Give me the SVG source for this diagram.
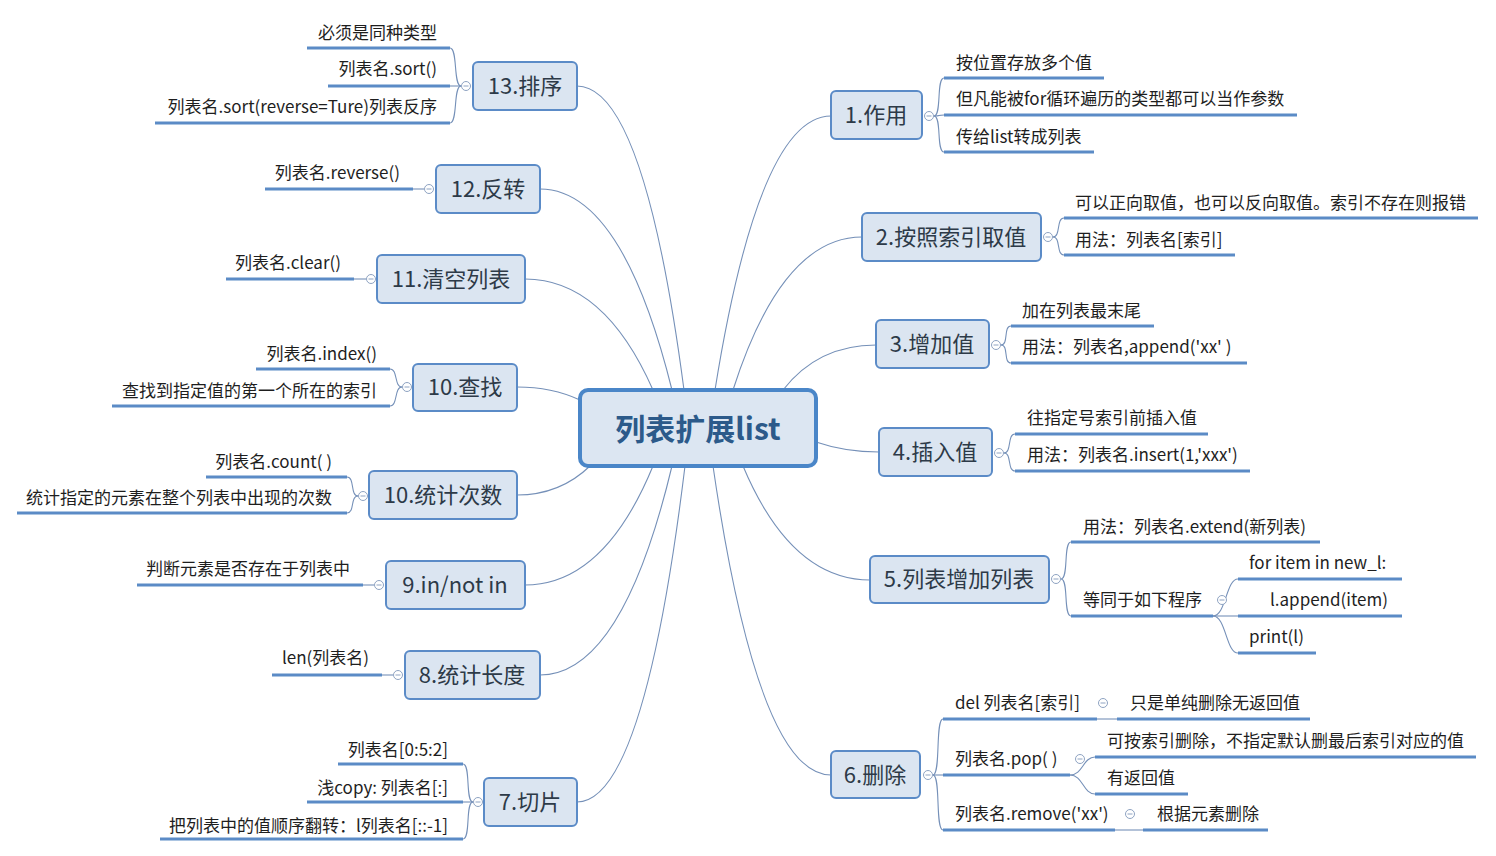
<svg xmlns="http://www.w3.org/2000/svg" width="1496" height="856" viewBox="0 0 1496 856">
<defs>
<style>
text{font-family:"Noto Sans CJK SC","Microsoft YaHei",sans-serif;dominant-baseline:central;transform:translateY(-2px)}
.box{fill:#dbe5f1;stroke:#5b8bc7;stroke-width:2}
.nt{font-size:22px;fill:#2d3a48;text-anchor:middle}
.lt{font-size:17px;fill:#1e1e1e}
.rt{font-size:17px;fill:#1e1e1e;text-anchor:end}
.ul{stroke:#5b8bc6;stroke-width:3;fill:none}
.cn{stroke:#7590b8;stroke-width:1.1;fill:none}
.cc{fill:#fff;stroke:#8ea3c2;stroke-width:1}
.mn{stroke:#8ea3c2;stroke-width:1}
</style>
<g id="fold"><circle class="cc" r="4.5"/><line class="mn" x1="-2.5" y1="0" x2="2.5" y2="0"/></g>
</defs>
<rect width="1496" height="856" fill="#fff"/>

<g id="connectors">
<path class="cn" d="M577 86 Q644 86 684 390"/>
<path class="cn" d="M540 189 Q622 189 672 390"/>
<path class="cn" d="M525 279 Q604 279 653 390"/>
<path class="cn" d="M517 387 Q552 387 580 400"/>
<path class="cn" d="M517 495 Q560 495 590 466"/>
<path class="cn" d="M525 585 Q604 585 653 466"/>
<path class="cn" d="M540 675 Q622 675 672 466"/>
<path class="cn" d="M577 802 Q644 802 685 466"/>
<path class="cn" d="M831 116 Q759 116 715 390"/>
<path class="cn" d="M862 237 Q782 237 733 390"/>
<path class="cn" d="M876 345 Q818 345 783 390"/>
<path class="cn" d="M879 452 Q845 452 816 442"/>
<path class="cn" d="M870 580 Q791 580 743 466"/>
<path class="cn" d="M831 775 Q758 775 713 466"/>
<path class="cn" d="M934 116 C942 116 936 78 944 78"/>
<path class="cn" d="M934 116 C942 116 936 115 944 115"/>
<path class="cn" d="M934 116 C942 116 936 152 944 152"/>
<path class="cn" d="M1053 237 C1061 237 1056 218 1064 218"/>
<path class="cn" d="M1053 237 C1061 237 1056 255 1064 255"/>
<path class="cn" d="M1001 345 C1009 345 1003 326 1011 326"/>
<path class="cn" d="M1001 345 C1009 345 1003 363 1011 363"/>
<path class="cn" d="M1004 453 C1012 453 1007 434 1015 434"/>
<path class="cn" d="M1004 453 C1012 453 1007 471 1015 471"/>
<path class="cn" d="M1061 579 C1069 579 1063 542 1071 542"/>
<path class="cn" d="M1061 579 C1069 579 1063 616 1071 616"/>
<path class="cn" d="M1213 616 C1226 616 1226 579 1238 579"/>
<path class="cn" d="M1213 616 L1238 616"/>
<path class="cn" d="M1213 616 C1226 616 1226 653 1238 653"/>
<path class="cn" d="M933 775 C941 775 935 719 943 719"/>
<path class="cn" d="M933 775 L943 775"/>
<path class="cn" d="M933 775 C941 775 935 830 943 830"/>
<path class="cn" d="M1097 719 L1117 719"/>
<path class="cn" d="M1070 775 C1083 775 1083 757 1095 757"/>
<path class="cn" d="M1070 775 C1083 775 1083 794 1095 794"/>
<path class="cn" d="M1115 830 L1143 830"/>
<path class="cn" d="M461 86 C453 86 458 48 450 48"/>
<path class="cn" d="M461 86 L450 86"/>
<path class="cn" d="M461 86 C453 86 458 123 450 123"/>
<path class="cn" d="M424 189 L413 189"/>
<path class="cn" d="M366 279 L354 279"/>
<path class="cn" d="M402 387 C394 387 398 369 390 369"/>
<path class="cn" d="M402 387 C394 387 398 406 390 406"/>
<path class="cn" d="M358 496 C350 496 355 477 347 477"/>
<path class="cn" d="M358 496 C350 496 355 513 347 513"/>
<path class="cn" d="M374 585 L363 585"/>
<path class="cn" d="M393 675 L382 675"/>
<path class="cn" d="M473 802 C465 802 471 764 463 764"/>
<path class="cn" d="M473 802 L463 802"/>
<path class="cn" d="M473 802 C465 802 471 839 463 839"/>
</g>

<g id="central">
<rect x="580" y="390" width="236" height="76" rx="8" fill="#dce6f2" stroke="#4a86c8" stroke-width="4"/>
<text x="698" y="429" font-size="30" font-weight="bold" fill="#2c5a8a" text-anchor="middle">列表扩展list</text>
</g>

<g id="n1">
<rect class="box" x="831" y="91" width="91" height="48" rx="5"/>
<text class="nt" x="876" y="115">1.作用</text>
<use href="#fold" x="929" y="116"/>
<text class="lt" x="956" y="63">按位置存放多个值</text><line class="ul" x1="944" y1="78" x2="1104" y2="78"/>
<text class="lt" x="956" y="99">但凡能被for循环遍历的类型都可以当作参数</text><line class="ul" x1="944" y1="115" x2="1297" y2="115"/>
<text class="lt" x="956" y="137">传给list转成列表</text><line class="ul" x1="944" y1="152" x2="1094" y2="152"/>
</g>

<g id="n2">
<rect class="box" x="862" y="213" width="179" height="48" rx="5"/>
<text class="nt" x="951" y="237">2.按照索引取值</text>
<use href="#fold" x="1048" y="237"/>
<text class="lt" x="1075" y="203">可以正向取值，也可以反向取值。索引不存在则报错</text><line class="ul" x1="1064" y1="218" x2="1478" y2="218"/>
<text class="lt" x="1075" y="240">用法：列表名[索引]</text><line class="ul" x1="1064" y1="255" x2="1235" y2="255"/>
</g>

<g id="n3">
<rect class="box" x="876" y="320" width="113" height="48" rx="5"/>
<text class="nt" x="932" y="344">3.增加值</text>
<use href="#fold" x="996" y="345"/>
<text class="lt" x="1022" y="311">加在列表最末尾</text><line class="ul" x1="1011" y1="326" x2="1154" y2="326"/>
<text class="lt" x="1022" y="347">用法：列表名,append('xx' )</text><line class="ul" x1="1011" y1="363" x2="1247" y2="363"/>
</g>

<g id="n4">
<rect class="box" x="879" y="428" width="113" height="48" rx="5"/>
<text class="nt" x="935" y="452">4.插入值</text>
<use href="#fold" x="999" y="453"/>
<text class="lt" x="1027" y="418">往指定号索引前插入值</text><line class="ul" x1="1015" y1="434" x2="1208" y2="434"/>
<text class="lt" x="1027" y="455">用法：列表名.insert(1,'xxx')</text><line class="ul" x1="1015" y1="471" x2="1250" y2="471"/>
</g>

<g id="n5">
<rect class="box" x="870" y="556" width="179" height="47" rx="5"/>
<text class="nt" x="959" y="579">5.列表增加列表</text>
<use href="#fold" x="1056" y="579"/>
<text class="lt" x="1083" y="527">用法：列表名.extend(新列表)</text><line class="ul" x1="1071" y1="542" x2="1320" y2="542"/>
<text class="lt" x="1083" y="600">等同于如下程序</text><line class="ul" x1="1071" y1="616" x2="1213" y2="616"/>
<use href="#fold" x="1222" y="600"/>
<text class="lt" x="1249" y="563">for item in new_l:</text><line class="ul" x1="1238" y1="579" x2="1402" y2="579"/>
<text class="lt" x="1270" y="600">l.append(item)</text><line class="ul" x1="1238" y1="616" x2="1402" y2="616"/>
<text class="lt" x="1249" y="637">print(l)</text><line class="ul" x1="1238" y1="653" x2="1316" y2="653"/>
</g>

<g id="n6">
<rect class="box" x="831" y="751" width="89" height="47" rx="5"/>
<text class="nt" x="875" y="775">6.删除</text>
<use href="#fold" x="928" y="775"/>
<text class="lt" x="955" y="703">del 列表名[索引]</text><line class="ul" x1="943" y1="719" x2="1097" y2="719"/>
<use href="#fold" x="1103" y="703"/>
<text class="lt" x="1130" y="703">只是单纯删除无返回值</text><line class="ul" x1="1117" y1="719" x2="1310" y2="719"/>
<text class="lt" x="955" y="759">列表名.pop( )</text><line class="ul" x1="943" y1="775" x2="1070" y2="775"/>
<use href="#fold" x="1080" y="759"/>
<text class="lt" x="1107" y="741">可按索引删除，不指定默认删最后索引对应的值</text><line class="ul" x1="1095" y1="757" x2="1476" y2="757"/>
<text class="lt" x="1107" y="778">有返回值</text><line class="ul" x1="1095" y1="794" x2="1188" y2="794"/>
<text class="lt" x="955" y="814">列表名.remove('xx')</text><line class="ul" x1="943" y1="830" x2="1115" y2="830"/>
<use href="#fold" x="1130" y="814"/>
<text class="lt" x="1157" y="814">根据元素删除</text><line class="ul" x1="1143" y1="830" x2="1268" y2="830"/>
</g>

<g id="n13">
<rect class="box" x="473" y="62" width="104" height="48" rx="5"/>
<text class="nt" x="525" y="86">13.排序</text>
<use href="#fold" x="466" y="86"/>
<text class="rt" x="437" y="33">必须是同种类型</text><line class="ul" x1="307" y1="48" x2="450" y2="48"/>
<text class="rt" x="437" y="69">列表名.sort()</text><line class="ul" x1="328" y1="86" x2="450" y2="86"/>
<text class="rt" x="437" y="107">列表名.sort(reverse=Ture)列表反序</text><line class="ul" x1="155" y1="123" x2="450" y2="123"/>
</g>

<g id="n12">
<rect class="box" x="436" y="165" width="104" height="48" rx="5"/>
<text class="nt" x="488" y="189">12.反转</text>
<use href="#fold" x="429" y="189"/>
<text class="rt" x="400" y="173">列表名.reverse()</text><line class="ul" x1="265" y1="189" x2="413" y2="189"/>
</g>

<g id="n11">
<rect class="box" x="377" y="255" width="148" height="48" rx="5"/>
<text class="nt" x="451" y="279">11.清空列表</text>
<use href="#fold" x="371" y="279"/>
<text class="rt" x="341" y="263">列表名.clear()</text><line class="ul" x1="226" y1="279" x2="354" y2="279"/>
</g>

<g id="n10a">
<rect class="box" x="413" y="364" width="104" height="47" rx="5"/>
<text class="nt" x="465" y="387">10.查找</text>
<use href="#fold" x="407" y="387"/>
<text class="rt" x="377" y="354">列表名.index()</text><line class="ul" x1="256" y1="369" x2="390" y2="369"/>
<text class="rt" x="377" y="391">查找到指定值的第一个所在的索引</text><line class="ul" x1="112" y1="406" x2="390" y2="406"/>
</g>

<g id="n10b">
<rect class="box" x="369" y="471" width="148" height="48" rx="5"/>
<text class="nt" x="443" y="495">10.统计次数</text>
<use href="#fold" x="363" y="496"/>
<text class="rt" x="332" y="462">列表名.count( )</text><line class="ul" x1="206" y1="477" x2="347" y2="477"/>
<text class="rt" x="332" y="498">统计指定的元素在整个列表中出现的次数</text><line class="ul" x1="17" y1="513" x2="347" y2="513"/>
</g>

<g id="n9">
<rect class="box" x="386" y="561" width="139" height="48" rx="5"/>
<text class="nt" x="455" y="585">9.in/not in</text>
<use href="#fold" x="379" y="585"/>
<text class="rt" x="350" y="569">判断元素是否存在于列表中</text><line class="ul" x1="137" y1="585" x2="363" y2="585"/>
</g>

<g id="n8">
<rect class="box" x="405" y="651" width="135" height="48" rx="5"/>
<text class="nt" x="472" y="675">8.统计长度</text>
<use href="#fold" x="398" y="675"/>
<text class="rt" x="369" y="658">len(列表名)</text><line class="ul" x1="272" y1="675" x2="382" y2="675"/>
</g>

<g id="n7">
<rect class="box" x="484" y="778" width="93" height="48" rx="5"/>
<text class="nt" x="530" y="802">7.切片</text>
<use href="#fold" x="478" y="802"/>
<text class="rt" x="448" y="750">列表名[0:5:2]</text><line class="ul" x1="338" y1="764" x2="463" y2="764"/>
<text class="rt" x="448" y="788">浅copy: 列表名[:]</text><line class="ul" x1="307" y1="802" x2="463" y2="802"/>
<text class="rt" x="448" y="826">把列表中的值顺序翻转：l列表名[::-1]</text><line class="ul" x1="160" y1="839" x2="463" y2="839"/>
</g>
</svg>
